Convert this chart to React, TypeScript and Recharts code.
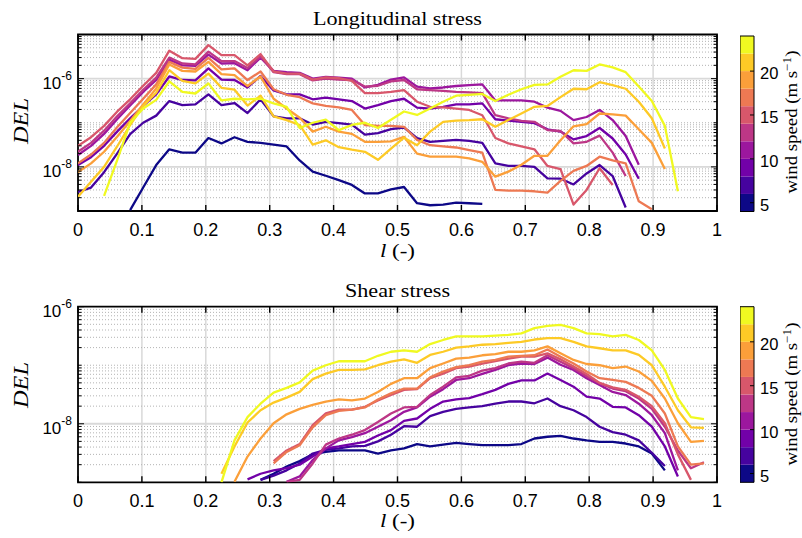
import React from 'react';
import { LineChart, Line, XAxis, YAxis, CartesianGrid, ReferenceArea } from 'recharts';

const _ = null;

// l positions along the blade (-)
const lPos = [
  0, 0.0204, 0.0408, 0.0612, 0.0816, 0.102, 0.1224, 0.1429, 0.1633, 0.1837,
  0.2041, 0.2245, 0.2449, 0.2653, 0.2857, 0.3061, 0.3265, 0.3469, 0.3673, 0.3878,
  0.4082, 0.4286, 0.449, 0.4694, 0.4898, 0.5102, 0.5306, 0.551, 0.5714, 0.5918,
  0.6122, 0.6327, 0.6531, 0.6735, 0.6939, 0.7143, 0.7347, 0.7551, 0.7755, 0.7959,
  0.8163, 0.8367, 0.8571, 0.8776, 0.898, 0.9184, 0.9388, 0.9592, 0.9796,
];
const lTicks = [0, 0.1, 0.2, 0.3, 0.4, 0.5, 0.6, 0.7, 0.8, 0.9, 1];
const windSpeeds = [5, 7, 9, 11, 13, 15, 17, 19, 21, 23];
const plasma10 = ['#0d0887', '#46039f', '#7201a8', '#9c179e', '#bd3786', '#d8576b', '#ed7953', '#fb9f3a', '#fdca26', '#f0f921'];
const cbEdges = [4, 6, 8, 10, 12, 14, 16, 18, 20, 22, 24];
const cbTicks = [5, 10, 15, 20];
const labelledDecades = [1e-8, 1e-6];
const mantissas = [1, 2, 3, 4, 5, 6, 7, 8, 9];

// Longitudinal stress DEL
const longWs05 = [_, _, _, _, 1.05e-9, 3.4e-9, 1.1e-8, 2.5e-8, 2.1e-8, 2.1e-8, 4.5e-8, 3.4e-8, 4.7e-8, 3.7e-8, 3.5e-8, 3.2e-8, 2.9e-8, 1.4e-8, 7.8e-9, 6.3e-9, 5.0e-9, 3.9e-9, 2.5e-9, 2.5e-9, 3.1e-9, 3.5e-9, 1.5e-9, 1.35e-9, 1.4e-9, 1.55e-9, 1.5e-9, 1.45e-9];
const longWs07 = [2.7e-9, 3.4e-9, 7.6e-9, 2.0e-8, 5.5e-8, 1.0e-7, 1.45e-7, 3.1e-7, 2.5e-7, 2.6e-7, 4.4e-7, 2.5e-7, 2.8e-7, 1.66e-7, 3.4e-7, 1.4e-7, 1.26e-7, 1.26e-7, 9.1e-8, 1.05e-7, 9.8e-8, 9.1e-8, 5.4e-8, 5.8e-8, 7.2e-8, 7.8e-8, 4.5e-8, 3.7e-8, 3.9e-8, 4.1e-8, 3.9e-8, 3.5e-8, 1.2e-8, 1.05e-8, 1.05e-8, 1.0e-8, 5.5e-9, 5.4e-9, 4.0e-9, 7.1e-9, 1.1e-8, 6.2e-9, 1.2e-9];
const longWs09 = [1.1e-8, 1.66e-8, 3.0e-8, 6.3e-8, 1.26e-7, 2.4e-7, 4.4e-7, 1.12e-6, 9.3e-7, 9.1e-7, 1.7e-6, 9.5e-7, 9.3e-7, 6.3e-7, 1.15e-6, 5.4e-7, 4.4e-7, 4.4e-7, 3.4e-7, 3.7e-7, 3.4e-7, 3.1e-7, 2.1e-7, 2.5e-7, 3.1e-7, 3.5e-7, 2.2e-7, 2.1e-7, 2.3e-7, 2.6e-7, 2.6e-7, 2.75e-7, 1.2e-7, 1.12e-7, 1.05e-7, 9.8e-8, 7.1e-8, 6.3e-8, 4.2e-8, 5.0e-8, 7.6e-8, 4.4e-8, 1.9e-8, 5.4e-9];
const longWs11 = [1.86e-8, 3.0e-8, 5.6e-8, 1.2e-7, 2.45e-7, 5.0e-7, 9.3e-7, 2.7e-6, 2.0e-6, 1.95e-6, 3.5e-6, 2.2e-6, 2.24e-6, 1.55e-6, 3.0e-6, 1.5e-6, 1.4e-6, 1.35e-6, 1.0e-6, 1.1e-6, 1.05e-6, 1.0e-6, 6.3e-7, 7.2e-7, 9.5e-7, 1.07e-6, 6.6e-7, 6.0e-7, 6.3e-7, 6.8e-7, 7.1e-7, 7.4e-7, 3.2e-7, 3.2e-7, 3.2e-7, 3.0e-7, 2.2e-7, 1.86e-7, 1.15e-7, 1.35e-7, 1.95e-7, 1.15e-7, 5.0e-8, 1.12e-8];
const longWs13 = [2.2e-8, 3.5e-8, 6.6e-8, 1.4e-7, 2.75e-7, 5.6e-7, 1.05e-6, 3.0e-6, 2.2e-6, 2.1e-6, 4.1e-6, 2.5e-6, 2.5e-6, 1.74e-6, 3.2e-6, 1.4e-6, 1.26e-6, 1.26e-6, 9.1e-7, 1.0e-6, 9.5e-7, 9.3e-7, 6.6e-7, 6.9e-7, 8.7e-7, 9.3e-7, 5.75e-7, 5.5e-7, 5.25e-7, 5.0e-7, 4.9e-7, 4.7e-7, 1.48e-7, 1.26e-7, 1.1e-7, 1.05e-7, 6.8e-8, 6.5e-8, 3.4e-8, 3.7e-8, 5.1e-8, 2.1e-8, 6.2e-9];
const longWs15 = [3.0e-8, 4.7e-8, 8.5e-8, 1.78e-7, 3.4e-7, 6.9e-7, 1.35e-6, 4.3e-6, 2.9e-6, 2.8e-6, 5.75e-6, 3.4e-6, 3.4e-6, 2.0e-6, 3.6e-6, 1.45e-6, 1.3e-6, 1.3e-6, 9.5e-7, 1.07e-6, 1.02e-6, 8.9e-7, 4.7e-7, 4.7e-7, 5.0e-7, 5.5e-7, 3.0e-7, 2.3e-7, 2.24e-7, 2.1e-7, 1.95e-7, 1.48e-7, 4.5e-8, 3.4e-8, 2.9e-8, 2.5e-8, 1.05e-8, 8.9e-9, 1.4e-9, 3.0e-9, 9.3e-9, 3.9e-9];
const longWs17 = [1.2e-8, 1.9e-8, 3.5e-8, 7.9e-8, 1.66e-7, 3.5e-7, 7.4e-7, 2.4e-6, 1.78e-6, 1.66e-6, 2.95e-6, 1.62e-6, 1.7e-6, 9.3e-7, 1.45e-6, 5.75e-7, 4.3e-7, 3.8e-7, 2.75e-7, 2.4e-7, 2.24e-7, 1.95e-7, 8.9e-8, 8.5e-8, 8.5e-8, 8.1e-8, 4.1e-8, 3.1e-8, 2.9e-8, 2.75e-8, 2.4e-8, 2.1e-8, 3.0e-9, 2.9e-9, 2.9e-9, 2.8e-9, 2.6e-9, 4.8e-9, 8.1e-9, 1.05e-8, 1.7e-8, 1.4e-8, 1.2e-8, 1.66e-9, 1.1e-9];
const longWs19 = [7.6e-9, 1.2e-8, 2.2e-8, 4.8e-8, 1.1e-7, 2.6e-7, 6.0e-7, 2.1e-6, 1.5e-6, 1.45e-6, 2.4e-6, 1.26e-6, 1.2e-6, 6.8e-7, 1.12e-6, 3.5e-7, 2.1e-7, 1.3e-7, 6.3e-8, 8.1e-8, 6.3e-8, 5.6e-8, 3.7e-8, 3.7e-8, 3.8e-8, 4.8e-8, 2.0e-8, 1.7e-8, 1.7e-8, 1.7e-8, 1.55e-8, 1.3e-8, 6.0e-9, 7.8e-9, 1.12e-8, 1.78e-8, 1.78e-8, 4.0e-8, 8.3e-8, 9.3e-8, 1.62e-7, 1.55e-7, 1.45e-7, 7.1e-8, 3.5e-8, 8.9e-9];
const longWs21 = [2.1e-9, 4.6e-9, 1.0e-8, 2.9e-8, 8.9e-8, 2.4e-7, 4.8e-7, 1.55e-6, 8.9e-7, 7.8e-7, 1.3e-6, 6.2e-7, 5.6e-7, 2.45e-7, 4.1e-7, 1.4e-7, 1.15e-7, 8.9e-8, 3.2e-8, 4.0e-8, 2.8e-8, 2.45e-8, 2.2e-8, 1.45e-8, 2.6e-8, 4.6e-8, 3.1e-8, 6.3e-8, 1.05e-7, 1.12e-7, 1.15e-7, 1.2e-7, 8.1e-8, 1.15e-7, 1.62e-7, 2.3e-7, 2.4e-7, 3.8e-7, 5.9e-7, 5.75e-7, 8.3e-7, 7.1e-7, 5.9e-7, 3.0e-7, 1.26e-7, 2.6e-8];
const longWs23 = [_, _, 2.2e-9, 1.4e-8, 1.0e-7, 2.1e-7, 3.3e-7, 8.7e-7, 5.0e-7, 4.6e-7, 7.8e-7, 3.2e-7, 3.5e-7, 3.4e-7, 3.5e-7, 2.75e-7, 2.3e-7, 7.6e-8, 1.0e-7, 1.17e-7, 6.8e-8, 8.9e-8, 1.0e-7, 7.6e-8, 1.17e-7, 1.8e-7, 1.5e-7, 2.1e-7, 3.0e-7, 4.1e-7, 4.3e-7, 4.5e-7, 3.1e-7, 4.3e-7, 5.75e-7, 7.2e-7, 7.4e-7, 1.1e-6, 1.55e-6, 1.5e-6, 2.1e-6, 1.8e-6, 1.4e-6, 6.6e-7, 3.1e-7, 8.5e-8, 2.8e-9];

// Shear stress DEL
const shearWs05 = [_, _, _, _, _, _, _, _, _, _, _, _, _, _, 1.1e-9, 1.4e-9, 1.86e-9, 2.3e-9, 3.0e-9, 3.3e-9, 3.5e-9, 3.5e-9, 3.5e-9, 3.1e-9, 3.5e-9, 3.8e-9, 4.5e-9, 4.1e-9, 4.4e-9, 4.7e-9, 4.5e-9, 4.3e-9, 4.3e-9, 4.3e-9, 4.5e-9, 5.6e-9, 6.0e-9, 6.2e-9, 5.6e-9, 5.2e-9, 4.9e-9, 4.9e-9, 4.6e-9, 4.1e-9, 3.1e-9, 1.6e-9];
const shearWs07 = [_, _, _, _, _, _, _, _, _, _, _, _, _, _, 1.1e-9, 1.3e-9, 1.6e-9, 2.1e-9, 3.1e-9, 3.6e-9, 3.8e-9, 4.1e-9, 4.2e-9, 5.0e-9, 6.5e-9, 9.1e-9, 8.9e-9, 1.35e-8, 1.6e-8, 1.8e-8, 1.9e-8, 2.0e-8, 2.2e-8, 2.4e-8, 2.4e-8, 2.24e-8, 2.7e-8, 2.0e-8, 1.7e-8, 1.3e-8, 8.9e-9, 7.2e-9, 6.5e-9, 5.2e-9, 3.2e-9, 1.9e-9];
const shearWs09 = [_, _, _, _, _, _, _, _, _, _, _, _, _, 1.12e-9, 1.4e-9, 1.6e-9, 1.74e-9, 2.0e-9, 2.75e-9, 3.8e-9, 4.1e-9, 4.5e-9, 4.9e-9, 6.3e-9, 7.8e-9, 1.12e-8, 1.23e-8, 1.8e-8, 2.4e-8, 2.6e-8, 2.75e-8, 3.2e-8, 3.8e-8, 4.8e-8, 5.5e-8, 5.5e-8, 7.2e-8, 5.6e-8, 4.3e-8, 2.9e-8, 2.7e-8, 1.95e-8, 1.9e-8, 1.4e-8, 8.9e-9, 4.1e-9, 1.26e-9];
const shearWs11 = [_, _, _, _, _, _, _, _, _, _, _, _, _, _, _, _, 1.02e-9, 1.26e-9, 2.4e-9, 3.8e-9, 5.2e-9, 5.9e-9, 6.9e-9, 8.9e-9, 1.15e-8, 1.6e-8, 1.9e-8, 2.9e-8, 3.9e-8, 5.6e-8, 6.0e-8, 7.1e-8, 8.3e-8, 1.0e-7, 1.07e-7, 1.05e-7, 1.35e-7, 1.02e-7, 8.3e-8, 6.0e-8, 4.6e-8, 3.5e-8, 3.1e-8, 2.2e-8, 1.4e-8, 6.9e-9, 1.6e-9];
const shearWs13 = [_, _, _, _, _, _, _, _, _, _, _, _, _, _, _, _, 1.02e-9, 1.1e-9, 2.1e-9, 4.4e-9, 5.6e-9, 6.5e-9, 7.8e-9, 1.07e-8, 1.5e-8, 1.9e-8, 1.95e-8, 3.1e-8, 4.3e-8, 6.2e-8, 6.6e-8, 8.1e-8, 8.9e-8, 1.07e-7, 1.15e-7, 1.1e-7, 1.48e-7, 1.15e-7, 8.9e-8, 6.5e-8, 4.9e-8, 4.0e-8, 3.6e-8, 2.7e-8, 1.8e-8, 8.9e-9, 3.5e-9, 1.74e-9, 2.2e-9];
const shearWs15 = [_, _, _, _, _, _, _, _, _, _, _, _, _, _, _, 2.3e-9, 3.5e-9, 4.5e-9, 9.5e-9, 1.5e-8, 1.74e-8, 1.74e-8, 1.95e-8, 2.5e-8, 3.1e-8, 3.8e-8, 3.9e-8, 6.0e-8, 7.2e-8, 8.9e-8, 9.5e-8, 1.07e-7, 1.17e-7, 1.3e-7, 1.4e-7, 1.4e-7, 1.6e-7, 1.26e-7, 9.5e-8, 7.1e-8, 5.0e-8, 4.2e-8, 3.8e-8, 2.9e-8, 2.0e-8, 1.02e-8, 3.0e-9, 1.1e-9];
const shearWs17 = [_, _, _, _, _, _, _, _, _, _, _, _, _, _, _, 2.1e-9, 3.3e-9, 4.3e-9, 8.7e-9, 1.4e-8, 1.66e-8, 1.74e-8, 1.9e-8, 2.6e-8, 3.3e-8, 4.0e-8, 4.0e-8, 6.2e-8, 7.8e-8, 9.3e-8, 1.0e-7, 1.15e-7, 1.23e-7, 1.4e-7, 1.45e-7, 1.48e-7, 1.86e-7, 1.4e-7, 1.07e-7, 7.8e-8, 6.0e-8, 5.6e-8, 5.2e-8, 4.1e-8, 3.0e-8, 1.5e-8, 4.1e-9, 2.0e-9, 2.1e-9];
const shearWs19 = [_, _, _, _, _, _, _, _, _, _, _, _, 1.02e-9, 2.75e-9, 5.6e-9, 1.02e-8, 1.45e-8, 1.8e-8, 2.1e-8, 2.4e-8, 2.6e-8, 2.5e-8, 2.7e-8, 3.5e-8, 4.8e-8, 6.0e-8, 6.0e-8, 8.9e-8, 1.07e-7, 1.3e-7, 1.35e-7, 1.48e-7, 1.55e-7, 1.7e-7, 1.7e-7, 1.8e-7, 2.1e-7, 1.6e-7, 1.23e-7, 1.05e-7, 1.0e-7, 8.9e-8, 9.5e-8, 7.8e-8, 5.4e-8, 2.7e-8, 1.02e-8, 4.9e-9, 5.1e-9];
const shearWs21 = [_, _, _, _, _, _, _, _, _, _, _, 1.4e-9, 4.1e-9, 1.05e-8, 1.7e-8, 2.3e-8, 2.8e-8, 3.5e-8, 5.8e-8, 7.2e-8, 8.3e-8, 8.3e-8, 8.5e-8, 1.0e-7, 1.15e-7, 1.26e-7, 1.1e-7, 1.5e-7, 1.7e-7, 2.0e-7, 2.1e-7, 2.24e-7, 2.3e-7, 2.4e-7, 2.5e-7, 2.75e-7, 2.9e-7, 2.9e-7, 2.5e-7, 2.1e-7, 1.95e-7, 1.8e-7, 1.8e-7, 1.5e-7, 1.0e-7, 4.3e-8, 1.7e-8, 8.7e-9, 8.5e-9];
const shearWs23 = [_, _, _, _, _, _, _, _, _, _, _, 1.0e-9, 5.2e-9, 1.3e-8, 2.2e-8, 3.4e-8, 4.1e-8, 5.1e-8, 8.1e-8, 1.0e-7, 1.17e-7, 1.17e-7, 1.17e-7, 1.45e-7, 1.7e-7, 1.8e-7, 1.7e-7, 2.3e-7, 2.7e-7, 3.1e-7, 3.1e-7, 3.1e-7, 3.2e-7, 3.3e-7, 3.5e-7, 4.3e-7, 4.7e-7, 4.9e-7, 4.3e-7, 3.5e-7, 3.4e-7, 3.1e-7, 3.3e-7, 2.7e-7, 1.8e-7, 8.3e-8, 2.7e-8, 1.3e-8, 1.2e-8];

const longSeries = [longWs05, longWs07, longWs09, longWs11, longWs13, longWs15, longWs17, longWs19, longWs21, longWs23];
const shearSeries = [shearWs05, shearWs07, shearWs09, shearWs11, shearWs13, shearWs15, shearWs17, shearWs19, shearWs21, shearWs23];

const SANS = '"Liberation Sans", Arial, Helvetica, sans-serif';
const SERIF = '"Liberation Serif", "Times New Roman", serif';

const CHART_W = 730;
const CHART_H = 262;
const PLOT_L = 78;
const PLOT_R = 717;
const X_AXIS_H = 30;

function logTicks(lo: number, hi: number) {
  const out: number[] = [];
  const e0 = Math.round(Math.log10(lo));
  const e1 = Math.round(Math.log10(hi));
  for (let e = e0; e < e1; e++) {
    mantissas.forEach((m) => out.push(Number(`${m}e${e}`)));
  }
  out.push(Number(`1e${e1}`));
  return out;
}

function buildRows(series: (number | null)[][]) {
  return lPos.map((l, i) => {
    const row: Record<string, number | null> = { l };
    series.forEach((s, k) => {
      row[`ws${windSpeeds[k]}`] = s[i] ?? null;
    });
    return row;
  });
}

function Panel({ top, plotTop, plotBottom, domain, series }: any) {
  const ph = plotBottom - plotTop;
  const pw = PLOT_R - PLOT_L;
  const ticks = logTicks(domain[0], domain[1]);
  const minor = ticks.filter((v) => !labelledDecades.includes(v) && v > domain[0] && v < domain[1]);
  const major = labelledDecades.filter((v) => v > domain[0] && v < domain[1]);
  const data = buildRows(series);
  const margin = {
    top: plotTop - top,
    right: CHART_W - PLOT_R,
    left: 0,
    bottom: CHART_H - (plotBottom - top) - X_AXIS_H,
  };

  const xTick = (p: any) => {
    const { x, y, payload } = p;
    return (
      <g>
        <line x1={x} x2={x} y1={y} y2={y - 6} stroke="#000" strokeWidth={1.4} />
        <line x1={x} x2={x} y1={y - ph} y2={y - ph + 6} stroke="#000" strokeWidth={1.4} />
        <text x={x} y={y + 25} textAnchor="middle" fontFamily={SANS} fontSize={18} fill="#000">
          {String(payload.value)}
        </text>
      </g>
    );
  };

  const yTick = (p: any) => {
    const { x, y, payload } = p;
    const v = payload.value;
    const isMajor = labelledDecades.includes(v);
    const len = isMajor ? 6 : 3.5;
    const exp = Math.round(Math.log10(v));
    return (
      <g>
        <line x1={x} x2={x + len} y1={y} y2={y} stroke="#000" strokeWidth={1} />
        <line x1={x + pw - len} x2={x + pw} y1={y} y2={y} stroke="#000" strokeWidth={1} />
        {isMajor && (
          <text x={x - 6} y={y + 10} textAnchor="end" fontFamily={SANS} fontSize={17} fill="#000">
            10
            <tspan dy={-9} fontSize={12}>{String(exp)}</tspan>
          </text>
        )}
      </g>
    );
  };

  return (
    <div style={{ position: 'absolute', left: 0, top }}>
      <LineChart width={CHART_W} height={CHART_H} data={data} margin={margin}>
        <CartesianGrid horizontal={false} verticalValues={lTicks.slice(1, -1)} stroke="#d9d9d9" strokeWidth={1.5} />
        <CartesianGrid vertical={false} horizontalValues={minor} stroke="#b3b3b3" strokeWidth={1} strokeDasharray="1 2" />
        <CartesianGrid vertical={false} horizontalValues={major} stroke="#d9d9d9" strokeWidth={1.8} />
        <XAxis
          dataKey="l"
          type="number"
          domain={[0, 1]}
          ticks={lTicks}
          interval={0}
          tickSize={0}
          tickMargin={0}
          tickLine={false}
          axisLine={false}
          height={X_AXIS_H}
          tick={xTick}
          allowDataOverflow
        />
        <YAxis
          type="number"
          scale="log"
          domain={domain}
          ticks={ticks}
          interval={0}
          tickSize={0}
          tickMargin={0}
          tickLine={false}
          axisLine={false}
          width={PLOT_L}
          tick={yTick}
          allowDataOverflow
        />
        {series.map((_s: any, k: number) => (
          <Line
            key={windSpeeds[k]}
            type="linear"
            dataKey={`ws${windSpeeds[k]}`}
            stroke={plasma10[k]}
            strokeWidth={2.3}
            strokeLinejoin="round"
            dot={false}
            activeDot={false}
            isAnimationActive={false}
          />
        ))}
        <ReferenceArea x1={0} x2={1} y1={domain[0]} y2={domain[1]} fill="none" fillOpacity={0} stroke="#000" strokeWidth={1.8} />
      </LineChart>
    </div>
  );
}

function Colorbar({ top, barTop, barBottom }: any) {
  const w = 62;
  const axisW = 48;
  const margin = { top: barTop - top, right: 0, left: 0, bottom: CHART_H - (barBottom - top) };
  const cbTick = (p: any) => {
    const { x, y, payload } = p;
    return (
      <g>
        <line x1={x - 4} x2={x} y1={y} y2={y} stroke="#000" strokeWidth={1} />
        <text x={x + 6} y={y + 8} textAnchor="start" fontFamily={SANS} fontSize={16.5} fill="#000">
          {String(payload.value)}
        </text>
      </g>
    );
  };
  return (
    <div style={{ position: 'absolute', left: 740, top }}>
      <LineChart width={w} height={CHART_H} data={[{ c: 0 }, { c: 1 }]} margin={margin}>
        <XAxis dataKey="c" type="number" domain={[0, 1]} hide />
        <YAxis
          orientation="right"
          type="number"
          domain={[cbEdges[0], cbEdges[cbEdges.length - 1]]}
          ticks={cbTicks}
          interval={0}
          width={axisW}
          tickSize={0}
          tickMargin={0}
          tickLine={false}
          axisLine={false}
          tick={cbTick}
          allowDataOverflow
        />
        {plasma10.map((c, k) => (
          <ReferenceArea key={c} x1={0} x2={1} y1={cbEdges[k]} y2={cbEdges[k + 1]} fill={c} fillOpacity={1} stroke="none" />
        ))}
        <ReferenceArea x1={0} x2={1} y1={cbEdges[0]} y2={cbEdges[cbEdges.length - 1]} fill="none" fillOpacity={0} stroke="#000" strokeWidth={1} />
      </LineChart>
    </div>
  );
}

function Labels() {
  const cbLabel = (cx: number, cy: number) => (
    <text transform={`translate(${cx} ${cy}) rotate(-90)`} textAnchor="middle" fontFamily={SERIF} fontSize={17} fill="#000" textLength={143} lengthAdjust="spacingAndGlyphs">
      wind speed (m s<tspan dy={-6} fontSize={12}>−1</tspan><tspan dy={6}>)</tspan>
    </text>
  );
  const delLabel = (cy: number) => (
    <text transform={`translate(28 ${cy}) rotate(-90)`} textAnchor="middle" fontFamily={SERIF} fontStyle="italic" fontSize={20} fill="#000" textLength={46} lengthAdjust="spacingAndGlyphs">
      DEL
    </text>
  );
  const lLabel = (y: number) => (
    <text x={397.5} y={y} textAnchor="middle" fontFamily={SERIF} fontSize={19} fill="#000" textLength={35} lengthAdjust="spacingAndGlyphs">
      <tspan fontStyle="italic">l</tspan> (-)
    </text>
  );
  return (
    <svg width={802} height={538} style={{ position: 'absolute', left: 0, top: 0, pointerEvents: 'none' }}>
      <text x={397.5} y={25} textAnchor="middle" fontFamily={SERIF} fontSize={18} fill="#000" textLength={169} lengthAdjust="spacingAndGlyphs">
        Longitudinal stress
      </text>
      <text x={397.5} y={296.5} textAnchor="middle" fontFamily={SERIF} fontSize={18} fill="#000" textLength={105} lengthAdjust="spacingAndGlyphs">
        Shear stress
      </text>
      {delLabel(121)}
      {delLabel(385)}
      {lLabel(257)}
      {lLabel(527)}
      {cbLabel(797, 122)}
      {cbLabel(797, 394)}
    </svg>
  );
}

export default function App() {
  return (
    <div style={{ position: 'absolute', left: 0, top: 0, width: 802, height: 538, background: '#fff', overflow: 'hidden' }}>
      <Panel top={0} plotTop={34.5} plotBottom={211} domain={[1e-9, 1e-5]} series={longSeries} />
      <Panel top={270} plotTop={306.7} plotBottom={482.3} domain={[1e-9, 1e-6]} series={shearSeries} />
      <Colorbar top={0} barTop={36} barBottom={211.5} />
      <Colorbar top={270} barTop={306.7} barBottom={482.3} />
      <Labels />
    </div>
  );
}
